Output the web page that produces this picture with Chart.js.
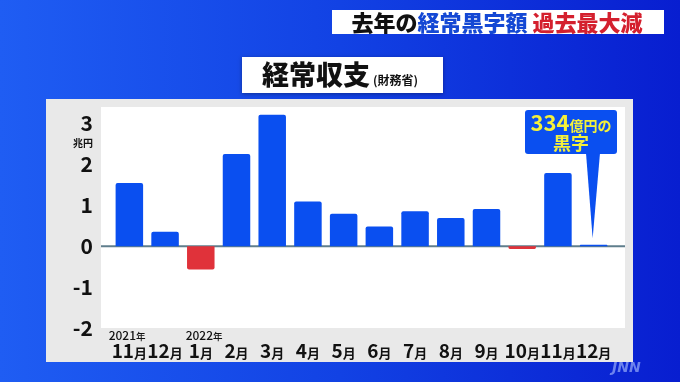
<!DOCTYPE html>
<html><head><meta charset="utf-8">
<script src="https://cdn.jsdelivr.net/npm/chart.js@4"></script>
<style>html,body{margin:0;padding:0;background:#1040e0;overflow:hidden}canvas{display:block}</style>
</head><body>
<canvas id="c" width="680" height="382"></canvas>
<script>
const months = ['11月','12月','1月','2月','3月','4月','5月','6月','7月','8月','9月','10月','11月','12月'];
const years = ['2021年','','2022年','','','','','','','','','','',''];
const balance = [1.54,0.35,-0.57,2.25,3.21,1.09,0.79,0.48,0.85,0.69,0.91,-0.07,1.79,0.0334];
const yTicks = [-2,-1,0,1,2,3];
const headline = [['去年の','#111111'],['経常黒字額','#1448d4'],[' ','#111111'],['過去最大減','#d4202e']];
const chartTitle = '経常収支';
const chartSource = '(財務省)';
const unitLabel = '兆円';
const calloutNum = '334';
const calloutUnit = '億円の';
const calloutLine2 = '黒字';

const F = '"Noto Sans CJK JP","Noto Sans",sans-serif';
const BLUE = '#0a4ff0';
const RED = '#e0323a';

function rr(ctx,x,y,w,h,r){ctx.beginPath();ctx.moveTo(x+r,y);ctx.lineTo(x+w-r,y);ctx.quadraticCurveTo(x+w,y,x+w,y+r);ctx.lineTo(x+w,y+h-r);ctx.quadraticCurveTo(x+w,y+h,x+w-r,y+h);ctx.lineTo(x+r,y+h);ctx.quadraticCurveTo(x,y+h,x,y+h-r);ctx.lineTo(x,y+r);ctx.quadraticCurveTo(x,y,x+r,y);ctx.closePath();}

const deco = {
  id:'deco',
  beforeDraw(chart){
    const ctx = chart.ctx;
    ctx.save();
    const g = ctx.createLinearGradient(0,0,680,0);
    g.addColorStop(0,'#1f5df3');
    g.addColorStop(0.5,'#1242e4');
    g.addColorStop(1,'#081ed0');
    ctx.fillStyle = g; ctx.fillRect(0,0,680,382);
    // headline box
    ctx.fillStyle = '#ffffff'; ctx.fillRect(332,10,332,24);
    ctx.font = '900 22px '+F; ctx.textBaseline='middle'; ctx.textAlign='left';
    let tw = 0; headline.forEach(p=>tw+=ctx.measureText(p[0]).width);
    let hx = 497 - tw/2;
    headline.forEach(p=>{ctx.fillStyle=p[1]; ctx.fillText(p[0],hx,23); hx+=ctx.measureText(p[0]).width;});
    // panel
    ctx.fillStyle = '#e9e9e9'; ctx.fillRect(46,99,587,263);
    ctx.fillStyle = '#ffffff'; ctx.fillRect(101,107,524,221);
    // chart title box
    ctx.save(); ctx.shadowColor='rgba(0,0,0,0.35)'; ctx.shadowBlur=4; ctx.shadowOffsetY=1;
    ctx.fillStyle='#ffffff'; ctx.fillRect(242,57,201,36); ctx.restore();
    ctx.fillStyle='#111111'; ctx.textBaseline='alphabetic';
    ctx.font='900 27px '+F; ctx.fillText(chartTitle,262,85);
    ctx.font='bold 12px '+F; ctx.fillText(chartSource,373,85);
    ctx.restore();
  },
  beforeDatasetsDraw(chart){
    const ctx=chart.ctx, y0=chart.scales.y.getPixelForValue(0);
    ctx.save(); ctx.strokeStyle='#5f7e8c'; ctx.lineWidth=2;
    ctx.beginPath(); ctx.moveTo(101,y0); ctx.lineTo(625,y0); ctx.stroke(); ctx.restore();
  },
  afterDraw(chart){
    const ctx=chart.ctx, xs=chart.scales.x, ys=chart.scales.y;
    ctx.save();
    ctx.fillStyle='#111111'; ctx.textBaseline='alphabetic'; ctx.textAlign='left';
    // unit label
    ctx.font='bold 10px '+F; ctx.textAlign='right'; ctx.fillText(unitLabel,93,ys.getPixelForValue(3)+24);
    ctx.textAlign='left';
    // x labels
    months.forEach((m,i)=>{
      const cx=xs.getPixelForValue(i);
      const num=m.replace('月','');
      ctx.font='bold 19px '+F; const w1=ctx.measureText(num).width;
      ctx.font='bold 13px '+F; const w2=ctx.measureText('月').width;
      const x0=cx-(w1+w2)/2;
      ctx.font='bold 19px '+F; ctx.fillText(num,x0,357.5);
      ctx.font='bold 13px '+F; ctx.fillText('月',x0+w1,357.5);
      if(years[i]){
        const yn=years[i].replace('年','');
        ctx.font='500 12px '+F; ctx.fillText(yn,x0-3,340);
        const wy=ctx.measureText(yn).width;
        ctx.font='500 9.5px '+F; ctx.fillText('年',x0-3+wy,340);
      }
    });
    // callout
    const tipX=xs.getPixelForValue(13)-1, tipY=ys.getPixelForValue(0)-8;
    ctx.fillStyle=BLUE;
    rr(ctx,525,110,92,44,3); ctx.fill();
    ctx.beginPath(); ctx.moveTo(586,153); ctx.lineTo(600,153); ctx.lineTo(tipX,tipY); ctx.closePath(); ctx.fill();
    ctx.fillStyle='#f4f03a';
    ctx.font='bold 22px '+F; const n1=ctx.measureText(calloutNum).width;
    ctx.font='bold 14px '+F; const n2=ctx.measureText(calloutUnit).width;
    let lx=571-(n1+n2)/2;
    ctx.font='bold 22px '+F; ctx.fillText(calloutNum,lx,131);
    ctx.font='bold 14px '+F; ctx.fillText(calloutUnit,lx+n1,131);
    ctx.font='bold 18px '+F; ctx.textAlign='center'; ctx.fillText(calloutLine2,571,150);
    // JNN
    ctx.font='italic 900 14px "DejaVu Sans",sans-serif'; ctx.textAlign='left';
    ctx.fillStyle='rgba(175,195,255,0.6)';
    ctx.fillText('JNN',612,372);
    ctx.restore();
  }
};

function build(){
  new Chart(document.getElementById('c'),{
    type:'bar',
    data:{labels:months,datasets:[{data:balance,
      backgroundColor:balance.map(v=>v<0?RED:BLUE),
      barPercentage:0.77,categoryPercentage:1,borderRadius:2}]},
    options:{
      responsive:false,animation:false,devicePixelRatio:1,
      layout:{padding:{left:0,right:68.5,top:107,bottom:54}},
      plugins:{legend:{display:false},tooltip:{enabled:false}},
      scales:{
        x:{display:false},
        y:{min:-2,max:3.4,
          grid:{display:false,drawTicks:false},border:{display:false},
          afterBuildTicks(s){s.ticks=yTicks.map(v=>({value:v}));},
          afterFit(s){s.width=111.5;},
          ticks:{padding:18.5,color:'#111111',font:{family:F,size:21,weight:'bold'}}
        }
      }
    },
    plugins:[deco]
  });
}
const fl=[document.fonts.load('bold 20px "Noto Sans CJK JP"'),document.fonts.load('900 20px "Noto Sans CJK JP"'),document.fonts.load('500 12px "Noto Sans CJK JP"')];
Promise.race([Promise.all(fl),new Promise(r=>setTimeout(r,1500))]).then(build,build);
</script>
</body></html>
